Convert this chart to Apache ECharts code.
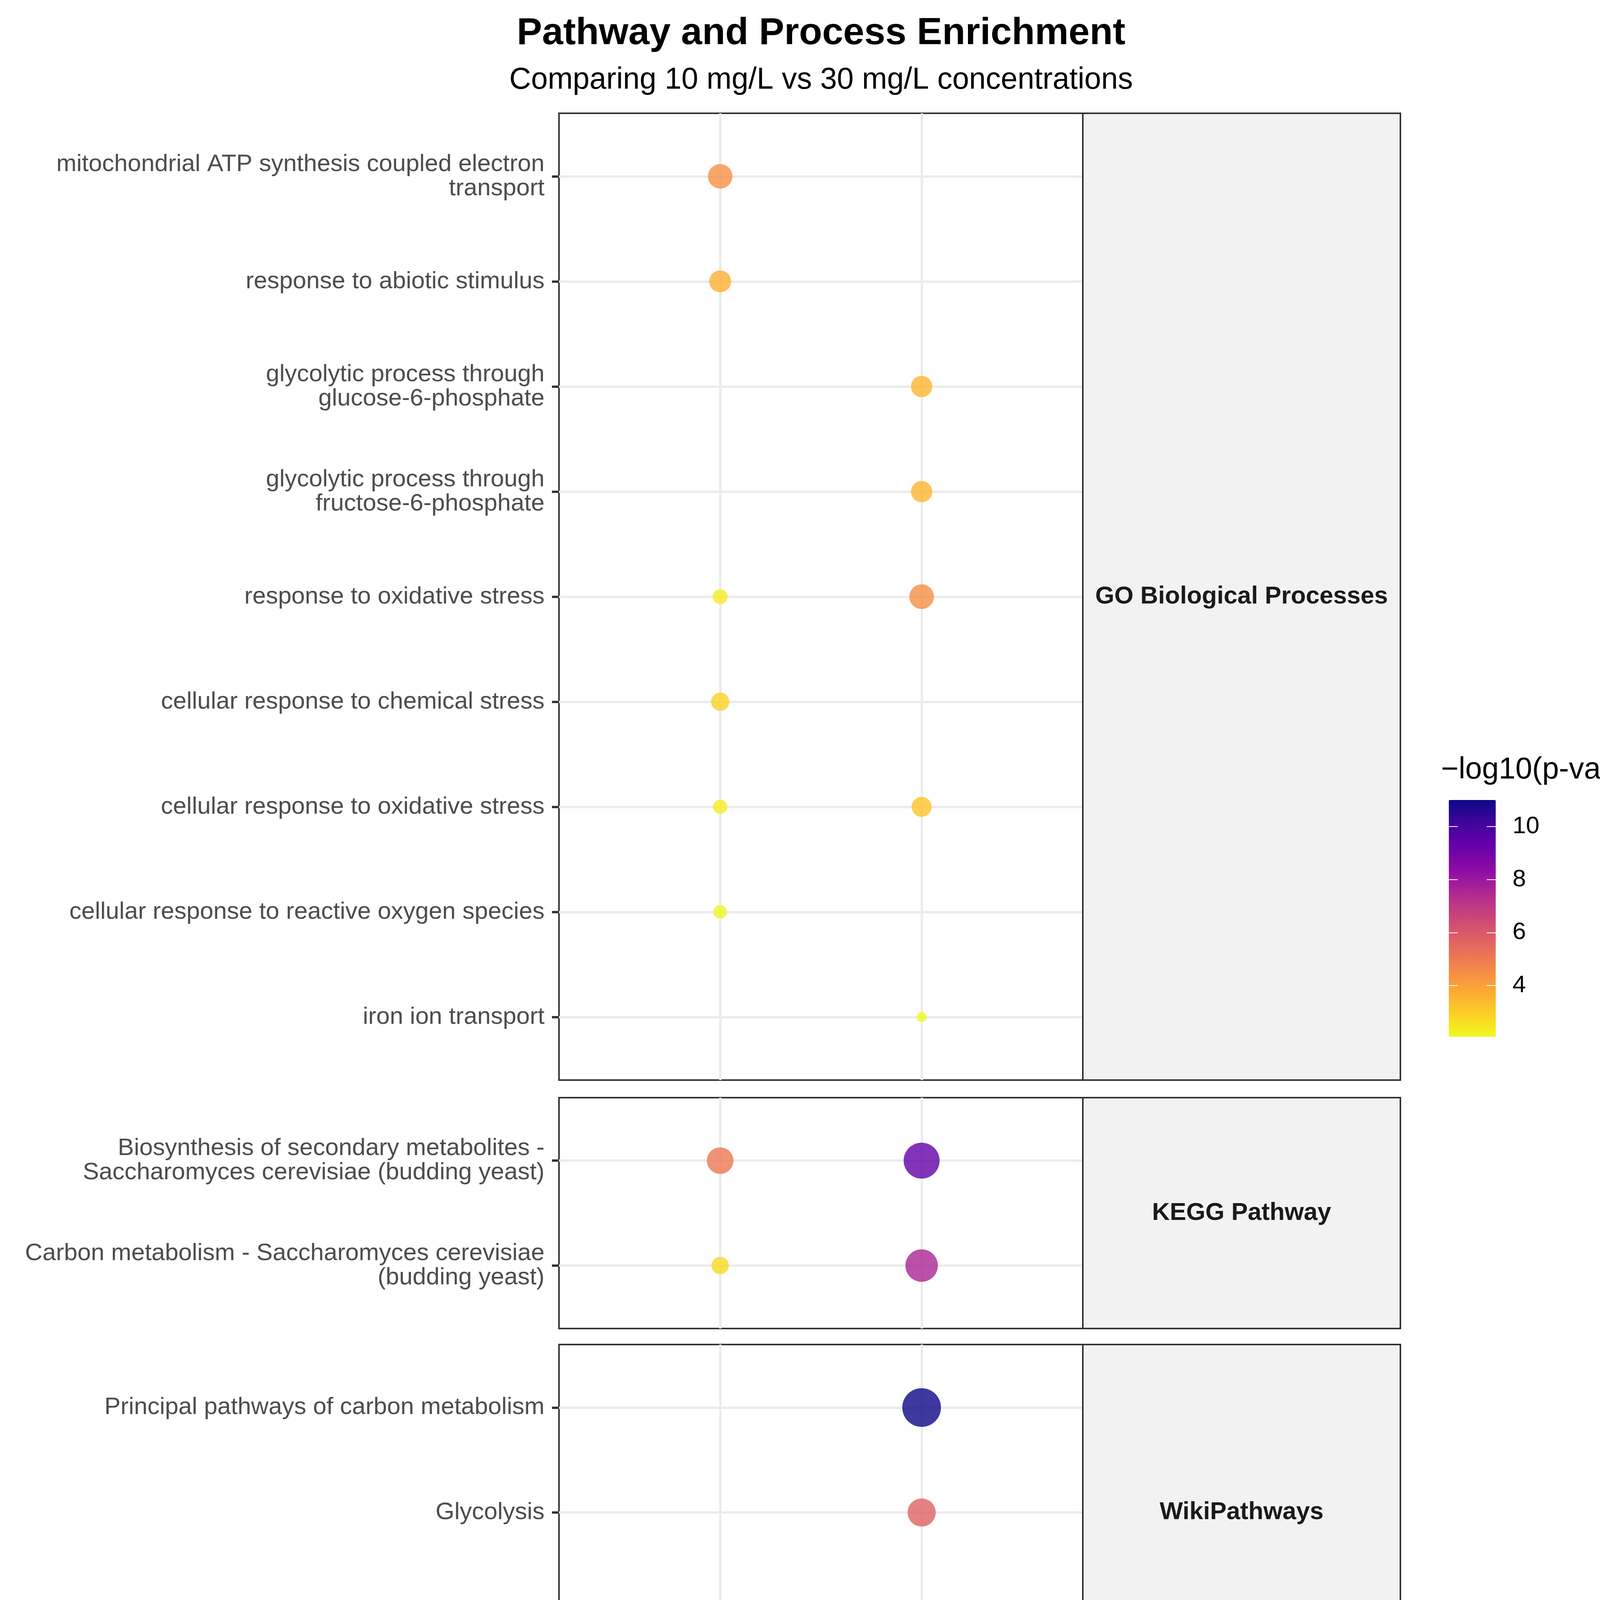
<!DOCTYPE html>
<html>
<head>
<meta charset="utf-8">
<script src="https://cdn.jsdelivr.net/npm/echarts@6/dist/echarts.min.js"></script>
<style>
html,body{margin:0;padding:0;background:#fff;overflow:hidden;}
#chart{width:4250px;height:4582px;}
</style>
</head>
<body>
<div id="chart"></div>
<script>
// ---------------- DATA ----------------
const concentrations = [10, 30];
const facetNames = ['GO Biological Processes', 'KEGG Pathway', 'WikiPathways'];

const goTerms = [
  'mitochondrial ATP synthesis coupled electron\ntransport',
  'response to abiotic stimulus',
  'glycolytic process through\nglucose-6-phosphate',
  'glycolytic process through\nfructose-6-phosphate',
  'response to oxidative stress',
  'cellular response to chemical stress',
  'cellular response to oxidative stress',
  'cellular response to reactive oxygen species',
  'iron ion transport'
];
// -log10(p-value) per term at 10 mg/L and 30 mg/L (null = not enriched)
const goLogP10 = [4.4, 3.65, null, null, 2.35, 2.85, 2.3, 2.22, null];
const goLogP30 = [null, null, 3.5, 3.5, 4.45, null, 3.2, null, 2.07];

const keggTerms = [
  'Biosynthesis of secondary metabolites -\nSaccharomyces cerevisiae (budding yeast)',
  'Carbon metabolism - Saccharomyces cerevisiae\n(budding yeast)'
];
const keggLogP10 = [5.1, 2.7];
const keggLogP30 = [9.4, 7.6];

const wikiTerms = [
  'Principal pathways of carbon metabolism',
  'Glycolysis',
  'Glycolysis and gluconeogenesis'
];
const wikiLogP10 = [null, null, null];
const wikiLogP30 = [11.0, 5.7, 5.4];

const legendTicks = [4, 6, 8, 10];
const xTicks = [10, 30];

// -------------- BUILD --------------
const facets = [
  {terms: goTerms, v10: goLogP10, v30: goLogP30},
  {terms: keggTerms, v10: keggLogP10, v30: keggLogP30},
  {terms: wikiTerms, v10: wikiLogP10, v30: wikiLogP30}
];

let allVals = [];
facets.forEach(f => { f.v10.concat(f.v30).forEach(v => { if (v != null) allVals.push(v); }); });
const vmin = Math.min.apply(null, allVals);
const vmax = Math.max.apply(null, allVals);

const plasmaLowToHigh = ['#F0F921','#FCCE25','#FCA636','#F2844B','#E16462','#CC4778','#B12A90','#8F0DA4','#6A00A8','#41049D','#0D0887'];

const FONT = '"Liberation Sans", Arial, Helvetica, sans-serif';
const panelLeft = 1431, panelWidth = 1341;
const stripWidth = 813;
const panelTops = [290, 2810, 3442];
const panelHeights = [2475, 591, 860];

const grids = [], xAxes = [], yAxes = [], series = [], graphics = [];

facets.forEach((f, i) => {
  const n = f.terms.length;
  grids.push({
    left: panelLeft, top: panelTops[i], width: panelWidth, height: panelHeights[i],
    show: true, borderColor: '#333333', borderWidth: 4, backgroundColor: 'transparent'
  });
  const last = i === facets.length - 1;
  xAxes.push({
    type: 'value', gridIndex: i, min: -6, max: 46, position: 'bottom',
    axisLine: {show: false, onZero: false},
    axisTick: {show: last, customValues: xTicks, length: 18, lineStyle: {color: '#333333', width: 6}},
    axisLabel: {show: last, customValues: xTicks, margin: 28, fontSize: 62, fontFamily: FONT, color: '#4d4d4d'},
    splitLine: {show: true, lineStyle: {color: '#ebebeb', width: 6}}
  });
  const idx = f.terms.map((_, k) => k + 1);
  yAxes.push({
    type: 'value', gridIndex: i, inverse: true, min: 0.4, max: n + 0.6, position: 'left',
    axisLine: {show: false, onZero: false},
    axisTick: {show: true, customValues: idx, length: 18, lineStyle: {color: '#333333', width: 6}},
    axisLabel: {
      customValues: idx, margin: 37, fontSize: 62, lineHeight: 62, fontFamily: FONT, color: '#4d4d4d', align: 'right',
      formatter: (v) => f.terms[Math.round(v) - 1] || ''
    },
    splitLine: {show: true, lineStyle: {color: '#ebebeb', width: 6}}
  });
  const data = [];
  f.terms.forEach((t, k) => {
    if (f.v10[k] != null) data.push([concentrations[0], k + 1, f.v10[k]]);
    if (f.v30[k] != null) data.push([concentrations[1], k + 1, f.v30[k]]);
  });
  series.push({
    type: 'scatter', xAxisIndex: i, yAxisIndex: i, data: data,
    symbol: 'circle',
    symbolSize: (val) => 25 + 74 * Math.sqrt((val[2] - vmin) / (vmax - vmin)),
    itemStyle: {opacity: 0.8},
    z: 5
  });
  // strip
  graphics.push({
    type: 'rect', z: 1,
    shape: {x: panelLeft + panelWidth, y: panelTops[i], width: stripWidth, height: panelHeights[i]},
    style: {fill: '#f2f2f2', stroke: '#333333', lineWidth: 4}
  });
  graphics.push({
    type: 'text', z: 2,
    x: panelLeft + panelWidth + stripWidth / 2, y: panelTops[i] + panelHeights[i] / 2,
    style: {text: facetNames[i], fontSize: 63, fontWeight: 'bold', fontFamily: FONT, fill: '#1a1a1a', align: 'center', verticalAlign: 'middle'}
  });
});

// legend colour bar axes
const lgLeft = 3709, lgTop = 2048, lgW = 120, lgH = 606;
grids.push({left: lgLeft, top: lgTop, width: lgW, height: lgH, show: false});
xAxes.push({type: 'value', gridIndex: 3, show: false, min: 0, max: 1});
yAxes.push({
  type: 'value', gridIndex: 3, position: 'left', min: vmin, max: vmax, z: 10,
  axisLine: {show: false, onZero: false}, splitLine: {show: false}, axisLabel: {show: false},
  axisTick: {show: true, inside: true, customValues: legendTicks, length: 23, lineStyle: {color: '#ffffff', width: 2}}
});
yAxes.push({
  type: 'value', gridIndex: 3, position: 'right', min: vmin, max: vmax, z: 10,
  axisLine: {show: false, onZero: false}, splitLine: {show: false},
  axisTick: {show: true, inside: true, customValues: legendTicks, length: 23, lineStyle: {color: '#ffffff', width: 2}},
  axisLabel: {show: true, customValues: legendTicks, margin: 43, fontSize: 62, fontFamily: FONT, color: '#000000'}
});

// titles
graphics.push({type: 'text', x: 2102, y: 86, style: {text: 'Pathway and Process Enrichment', fontSize: 97, fontWeight: 'bold', fontFamily: FONT, fill: '#000', align: 'center', verticalAlign: 'middle'}});
graphics.push({type: 'text', x: 2102, y: 206, style: {text: 'Comparing 10 mg/L vs 30 mg/L concentrations', fontSize: 77, fontFamily: FONT, fill: '#000', align: 'center', verticalAlign: 'middle'}});
graphics.push({type: 'text', x: 2102, y: 4495, style: {text: 'Concentration (mg/L)', fontSize: 77, fontFamily: FONT, fill: '#000', align: 'center', verticalAlign: 'middle'}});
graphics.push({type: 'text', x: 3689, y: 1972, style: {text: '\u2212log10(p-value)', fontSize: 77, fontFamily: FONT, fill: '#000', align: 'left', verticalAlign: 'middle'}});

const chart = echarts.init(document.getElementById('chart'));
chart.setOption({
  backgroundColor: '#ffffff',
  animation: false,
  grid: grids,
  xAxis: xAxes,
  yAxis: yAxes,
  visualMap: [{
    type: 'continuous', min: vmin, max: vmax, dimension: 2, seriesIndex: [0, 1, 2],
    inRange: {color: plasmaLowToHigh},
    left: lgLeft, top: lgTop, itemWidth: lgW, itemHeight: lgH,
    calculable: false, padding: 0, text: null, showLabel: false, hoverLink: false, z: 1
  }],
  graphic: graphics,
  series: series
});
</script>
</body>
</html>
